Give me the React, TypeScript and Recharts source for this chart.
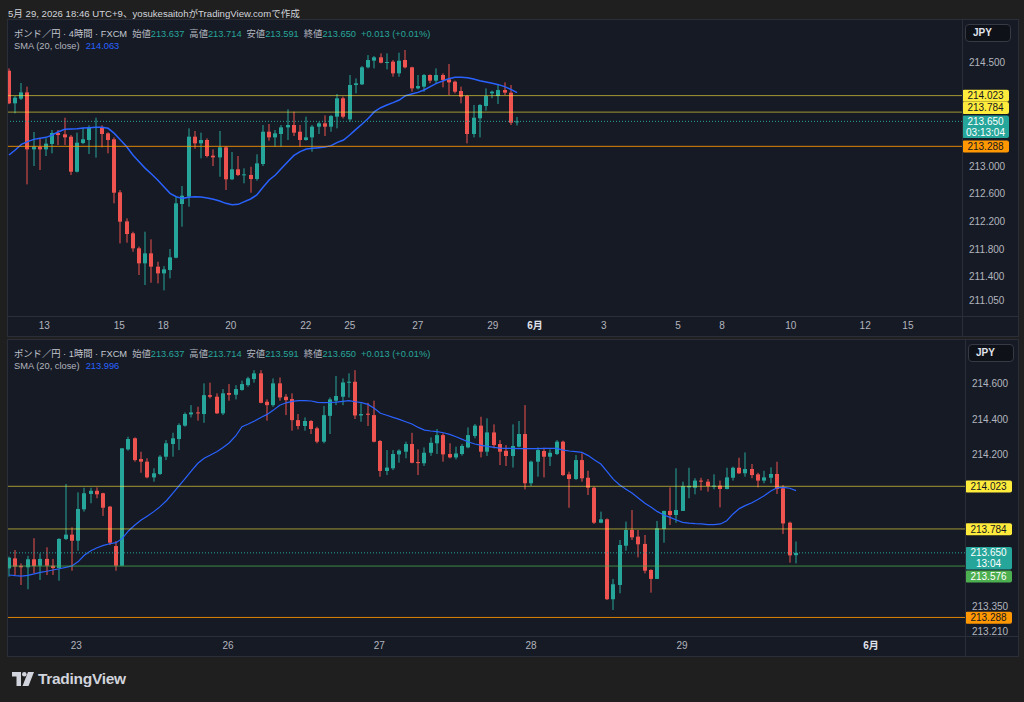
import React from 'react';
import { ComposedChart, Bar, Line, XAxis, YAxis, ReferenceLine } from 'recharts';

// ---------- 4H panel data ----------
const TOP_O = [214.384,213.911,213.979,214.070,213.244,213.278,213.244,213.322,213.481,213.462,213.428,212.920,213.336,213.380,213.554,213.563,213.476,213.390,212.621,212.200,212.027,211.810,211.592,211.737,211.544,211.447,211.495,211.674,212.452,212.558,213.428,213.331,213.380,213.153,213.128,213.273,212.810,212.955,212.868,212.873,212.814,213.032,213.500,213.418,213.467,213.563,213.597,213.500,213.380,213.418,213.573,213.621,213.573,213.718,213.984,213.679,214.177,214.186,214.433,214.530,214.578,214.500,214.515,214.346,214.539,214.433,214.128,214.153,214.322,214.240,214.322,214.259,214.225,214.090,214.017,213.467,213.694,213.873,214.056,214.017,214.104,214.066,213.637];
const TOP_H = [214.418,214.017,214.206,214.153,213.496,213.404,213.404,213.525,213.525,213.703,213.452,213.486,213.559,213.592,213.703,213.592,213.491,213.418,212.655,212.244,212.051,211.834,212.051,211.940,211.616,211.553,211.800,212.559,212.713,213.549,213.510,213.486,213.404,213.244,213.510,213.293,213.206,213.148,212.969,212.993,213.172,213.597,213.612,213.525,213.597,213.824,213.790,213.597,213.718,213.597,213.645,213.737,213.742,214.046,214.008,214.322,214.273,214.452,214.611,214.597,214.636,214.636,214.539,214.645,214.684,214.442,214.322,214.336,214.331,214.418,214.346,214.481,214.240,214.153,214.032,213.887,213.901,214.128,214.095,214.191,214.215,214.177,213.714];
const TOP_L = [213.900,213.766,213.960,212.737,213.003,212.945,213.148,213.186,213.307,213.307,212.872,212.910,213.320,213.177,213.124,213.273,213.186,212.462,211.882,211.892,211.761,211.423,211.278,211.312,211.302,211.200,211.375,211.665,212.124,212.413,213.254,213.114,213.128,213.003,212.848,212.655,212.800,212.858,212.752,212.616,212.790,213.003,213.370,213.283,213.283,213.380,213.438,213.283,213.370,213.210,213.467,213.438,213.500,213.549,213.694,213.645,214.056,214.177,214.418,214.418,214.491,214.404,214.297,214.297,214.418,214.080,214.114,214.080,214.201,214.201,214.143,214.032,214.056,213.911,213.331,213.418,213.418,213.805,213.984,213.901,214.032,213.597,213.591];
const TOP_C = [213.911,213.993,214.070,213.244,213.283,213.244,213.327,213.481,213.452,213.418,212.920,213.341,213.390,213.563,213.568,213.467,213.380,212.616,212.196,212.017,211.810,211.592,211.737,211.544,211.447,211.505,211.679,212.462,212.573,213.428,213.331,213.380,213.148,213.128,213.273,212.810,212.955,212.873,212.882,212.814,213.041,213.500,213.418,213.476,213.563,213.597,213.486,213.380,213.418,213.573,213.621,213.573,213.727,213.984,213.718,214.177,214.201,214.433,214.539,214.578,214.500,214.510,214.346,214.529,214.433,214.128,214.162,214.322,214.240,214.322,214.250,214.215,214.080,214.008,213.467,213.703,213.887,214.017,214.080,214.104,214.066,213.631,213.650];
const TOP_SMA = [213.162,213.235,213.317,213.356,213.389,213.404,213.418,213.452,213.500,213.534,213.539,213.544,213.554,213.558,213.563,213.563,213.549,213.476,213.380,213.283,213.162,213.066,212.969,212.887,212.800,212.703,212.607,212.558,212.534,212.549,212.558,212.553,212.539,212.520,212.496,212.462,212.443,212.447,212.486,212.525,212.583,212.694,212.800,212.872,212.969,213.066,213.157,213.211,213.249,213.259,213.269,213.278,213.298,213.346,213.380,213.452,213.534,213.612,213.694,213.790,213.848,213.887,213.921,213.959,214.022,214.046,214.070,214.104,214.153,214.201,214.235,214.269,214.288,214.288,214.283,214.264,214.240,214.220,214.201,214.182,214.153,214.114,214.066];
const TOP_XTICK_POS = [5.7, 17.8, 24.9, 35.8, 47.9, 55.0, 66.0, 78.1, 84.9, 96.0, 108.0, 115.1, 126.2, 138.2, 145.1];
const TOP_XTICK_LABELS = ['13', '15', '18', '20', '22', '25', '27', '29', '6月', '3', '5', '8', '10', '12', '15'];
const TOP_YTICKS = [214.5, 213.0, 212.6, 212.2, 211.8, 211.4, 211.05];

// ---------- 1H panel data ----------
const BOT_O = [213.563,213.619,213.578,213.569,213.614,213.578,213.616,213.578,213.565,213.728,213.752,213.718,213.894,213.980,213.998,213.984,213.909,213.688,213.578,214.230,214.292,214.176,214.161,214.073,214.092,214.189,214.260,214.288,214.363,214.426,214.437,214.428,214.534,214.525,214.432,214.546,214.536,214.563,214.590,214.624,214.656,214.497,214.478,214.600,214.525,214.512,214.394,214.361,214.389,214.348,214.273,214.418,214.503,214.525,214.604,214.609,214.420,214.430,214.422,214.277,214.109,214.124,214.202,214.217,214.260,214.159,214.152,214.211,214.264,214.310,214.204,214.185,214.204,214.241,214.305,214.363,214.217,214.325,214.260,214.222,214.193,214.245,214.316,214.040,214.161,214.221,214.189,214.204,214.273,214.090,214.064,214.170,214.071,214.015,213.819,213.838,213.390,213.470,213.690,213.778,213.741,213.700,213.554,213.504,213.784,213.885,213.862,213.885,214.017,214.015,214.055,214.049,214.021,214.027,214.008,214.071,214.127,214.096,214.120,214.090,214.055,214.071,214.092,214.012,213.819,213.637];
const BOT_H = [213.629,213.666,213.591,213.633,213.732,213.647,213.681,213.616,213.732,214.036,213.793,213.989,214.015,214.015,214.017,213.987,213.913,213.716,214.236,214.301,214.297,214.217,214.180,214.124,214.198,214.282,214.323,214.376,214.437,214.478,214.469,214.600,214.604,214.544,214.568,214.596,214.590,214.615,214.637,214.674,214.674,214.510,214.628,214.633,214.540,214.544,214.428,214.409,214.394,214.357,214.473,214.521,214.641,214.628,214.656,214.674,214.488,214.491,214.503,214.282,214.226,214.226,214.230,214.273,214.323,214.230,214.241,214.297,214.344,214.320,214.264,214.245,214.260,214.353,214.372,214.413,214.404,214.370,214.282,214.254,214.370,214.389,214.478,214.167,214.241,214.239,214.230,214.282,214.279,214.105,214.198,214.208,214.110,214.021,213.881,213.843,213.504,213.722,213.825,213.890,213.778,213.750,213.558,213.829,213.886,214.017,214.124,214.049,214.127,214.068,214.071,214.064,214.090,214.055,214.127,214.133,214.183,214.213,214.148,214.099,214.110,214.129,214.161,214.030,213.825,213.714];
const BOT_L = [213.517,213.526,213.470,213.446,213.535,213.498,213.526,213.526,213.494,213.722,213.550,213.662,213.881,213.928,213.956,213.857,213.694,213.550,213.576,214.223,214.161,214.099,214.068,214.049,214.086,214.170,214.189,214.226,214.357,214.409,214.391,214.379,214.516,214.428,214.422,214.503,214.510,214.559,214.581,214.604,214.488,214.391,214.469,214.503,214.422,214.335,214.342,214.335,214.316,214.264,214.264,214.316,214.478,214.478,214.521,214.400,214.385,214.361,214.269,214.077,214.086,214.114,214.155,214.180,214.152,214.086,214.137,214.194,214.204,214.161,214.180,214.174,214.195,214.236,214.292,214.185,214.193,214.236,214.142,214.137,214.128,214.241,214.006,214.025,214.077,214.073,214.137,214.198,214.081,213.903,214.058,214.049,213.974,213.812,213.816,213.386,213.330,213.423,213.662,213.722,213.625,213.535,213.427,213.504,213.707,213.806,213.819,213.885,213.956,213.978,214.000,213.993,214.006,213.905,214.006,214.055,214.092,214.077,214.068,214.017,214.040,214.040,213.980,213.756,213.595,213.591];
const BOT_C = [213.623,213.573,213.569,213.614,213.576,213.616,213.578,213.565,213.728,213.752,213.718,213.896,213.984,213.998,213.978,213.903,213.707,213.578,214.236,214.288,214.170,214.161,214.073,214.096,214.189,214.264,214.292,214.366,214.428,214.437,214.432,214.534,214.525,214.432,214.544,214.536,214.568,214.596,214.628,214.656,214.491,214.478,214.600,214.521,214.506,214.394,214.361,214.389,214.344,214.273,214.422,214.510,214.529,214.605,214.609,214.420,214.428,214.424,214.273,214.109,214.128,214.204,214.223,214.260,214.155,214.153,214.211,214.267,214.310,214.202,214.185,214.207,214.249,214.310,214.363,214.217,214.325,214.254,214.217,214.193,214.249,214.316,214.040,214.161,214.226,214.189,214.211,214.273,214.086,214.064,214.170,214.068,214.015,213.819,213.838,213.390,213.474,213.694,213.778,213.737,213.698,213.550,213.504,213.788,213.885,213.862,213.890,214.025,214.025,214.055,214.049,214.025,214.027,214.008,214.073,214.127,214.096,214.120,214.086,214.055,214.073,214.092,214.008,213.815,213.636,213.650];
const BOT_SMA = [213.526,213.522,213.520,213.524,213.532,213.541,213.547,213.554,213.561,213.569,213.577,213.601,213.638,213.662,213.679,213.692,213.701,213.707,213.731,213.774,213.806,213.834,213.857,213.881,213.909,213.942,213.984,214.025,214.068,214.111,214.152,214.180,214.198,214.217,214.241,214.267,214.305,214.357,214.372,214.389,214.409,214.426,214.450,214.477,214.491,214.499,214.503,214.503,214.501,214.493,214.492,214.493,214.495,214.499,214.503,214.497,214.492,214.482,214.460,214.432,214.421,214.409,214.398,214.385,214.372,214.353,214.338,214.333,214.329,214.323,214.314,214.301,214.286,214.271,214.260,214.252,214.247,214.241,214.237,214.236,214.236,214.234,214.234,214.234,214.234,214.236,214.236,214.236,214.226,214.221,214.217,214.213,214.195,214.170,214.148,214.105,214.062,214.030,214.006,213.984,213.956,213.928,213.905,213.881,213.862,213.849,213.834,213.821,213.817,213.814,213.812,213.808,213.808,213.812,213.830,213.868,213.898,213.916,213.931,213.950,213.971,213.997,214.015,214.017,214.012,213.999];
const BOT_XTICK_POS = [10.7, 34.8, 58.8, 82.9, 106.9, 136.9];
const BOT_XTICK_LABELS = ['23', '26', '27', '28', '29', '6月'];
const BOT_YTICKS = [214.6, 214.4, 214.2, 213.35, 213.21];

// horizontal levels
const LEVEL_HIGH = 214.023;
const LEVEL_MID = 213.784;
const LEVEL_LOW = 213.288;
const LEVEL_GREEN = 213.576;
const LAST_PRICE = 213.650;

const BG_PAGE = '#1f1f1f';
const BG_CHART = '#161a25';
const SEP = '#2a2e39';
const UP = '#26a69a';
const DOWN = '#ef5350';
const TXT = '#b2b5be';
const SMA_COLOR = '#2962ff';
const FONT = '"Liberation Sans", Arial, "Noto Sans CJK JP", sans-serif';

const build = (o: number[], h: number[], l: number[], c: number[], s: number[]) =>
  o.map((v, i) => ({ i, o: v, h: h[i], l: l[i], c: c[i], range: [l[i], h[i]], sma: s[i] }));

const TOP_DATA = build(TOP_O, TOP_H, TOP_L, TOP_C, TOP_SMA);
const BOT_DATA = build(BOT_O, BOT_H, BOT_L, BOT_C, BOT_SMA);

const Candle = (props: any) => {
  const { x, y, width, height, payload } = props;
  if (!payload || payload.o == null || !isFinite(x) || !isFinite(y)) return null;
  const { o, h, l, c } = payload;
  const top = Math.min(y, y + height);
  const hh = Math.abs(height);
  const cx = x + width / 2;
  const ppu = h > l ? hh / (h - l) : 0;
  const yO = top + (h - o) * ppu;
  const yC = top + (h - c) * ppu;
  const color = c >= o ? UP : DOWN;
  const bTop = Math.min(yO, yC);
  const bh = Math.max(1, Math.abs(yO - yC));
  const bx = Math.round(cx - 2);
  return (
    <g>
      <rect x={bx + 1.5} y={top} width={1} height={Math.max(1, hh)} fill={color} />
      <rect x={bx} y={bTop} width={4} height={bh} fill={color} />
    </g>
  );
};

const Tag = (props: any) => {
  const { viewBox, text, sub, fill, color, shift = 0 } = props;
  if (!viewBox) return null;
  const x0 = viewBox.x + viewBox.width;
  const yc = viewBox.y + shift;
  const w = 47;
  const h = sub ? 22.5 : 12;
  return (
    <g>
      <rect x={x0} y={yc - 5.8} width={w} height={h} rx={2} fill={fill} />
      <text x={x0 + w / 2} y={yc} dy="0.36em" textAnchor="middle" fontSize={10} fill={color} fontFamily={FONT}>
        {text}
      </text>
      {sub ? (
        <text x={x0 + w / 2} y={yc + 10.6} dy="0.36em" textAnchor="middle" fontSize={10} fill={color} fontFamily={FONT}>
          {sub}
        </text>
      ) : null}
    </g>
  );
};

const Header = ({ top, tf, sma }: { top: number; tf: string; sma: string }) => {
  const g = { color: TXT };
  const v = { color: UP };
  return (
    <div style={{ position: 'absolute', left: 6, top, fontSize: 9.3, lineHeight: '12.5px', whiteSpace: 'nowrap', fontFamily: FONT }}>
      <div>
        <span style={{ color: '#c4c7cf' }}>ポンド／円 · {tf} · FXCM</span>
        <span style={{ marginLeft: 5, ...g }}>始値</span><span style={v}>213.637</span>
        <span style={{ marginLeft: 5, ...g }}>高値</span><span style={v}>213.714</span>
        <span style={{ marginLeft: 5, ...g }}>安値</span><span style={v}>213.591</span>
        <span style={{ marginLeft: 5, ...g }}>終値</span><span style={v}>213.650</span>
        <span style={{ marginLeft: 5, ...v }}>+0.013 (+0.01%)</span>
      </div>
      <div>
        <span style={g}>SMA (20, close)</span>
        <span style={{ marginLeft: 6, color: SMA_COLOR }}>{sma}</span>
      </div>
    </div>
  );
};

type PanelProps = {
  top: number;
  data: any[];
  yDomain: [number, number];
  yTicks: number[];
  xDomain: [number, number];
  xTicks: number[];
  xLabels: string[];
  axisW: number;
  tf: string;
  smaText: string;
  countdown: string;
  showGreen: boolean;
  midShift: number;
  greenShift: number;
  smaWidth: number;
};

const W = 1010;
const H = 316;
const XH = 20;

const Panel = (p: PanelProps) => {
  const plotW = W - p.axisW;
  const XTick = (props: any) => {
    const { x, y, payload } = props;
    const idx = p.xTicks.indexOf(payload.value);
    const label = p.xLabels[idx] ?? '';
    const strong = label.includes('月');
    return (
      <text x={x} y={y} dy={5} textAnchor="middle" fontSize={10} fontFamily={FONT}
        fill={strong ? '#e0e3eb' : TXT} fontWeight={strong ? 700 : 400}>
        {label}
      </text>
    );
  };
  const YTick = (props: any) => {
    const { x, y, payload } = props;
    return (
      <text x={x - 1} y={y} dy="0.36em" textAnchor="start" fontSize={10} fontFamily={FONT} fill={TXT}>
        {Number(payload.value).toFixed(3)}
      </text>
    );
  };
  const yellowLine = { stroke: '#ffeb3b', strokeOpacity: 0.6, strokeWidth: 1 };
  return (
    <div style={{ position: 'absolute', left: 8, top: p.top, width: W, height: H, background: BG_CHART, outline: `1px solid ${SEP}` }}>
      <ComposedChart width={W} height={H} data={p.data} margin={{ top: 0, right: 0, bottom: 0, left: 0 }}>
        <XAxis type="number" dataKey="i" domain={p.xDomain} allowDataOverflow ticks={p.xTicks} interval={0}
          height={XH} axisLine={false} tickLine={false} tick={<XTick />} />
        <YAxis type="number" orientation="right" domain={p.yDomain} allowDataOverflow ticks={p.yTicks} interval={0}
          width={p.axisW} axisLine={false} tickLine={false} tick={<YTick />} />
        <Bar dataKey="range" barSize={4} shape={<Candle />} isAnimationActive={false} />
        <Line type="linear" dataKey="sma" stroke={SMA_COLOR} strokeWidth={p.smaWidth} dot={false} activeDot={false} isAnimationActive={false} />
        <ReferenceLine y={LEVEL_HIGH} {...yellowLine}
          label={<Tag text={LEVEL_HIGH.toFixed(3)} fill="#ffeb3b" color="#131722" />} />
        <ReferenceLine y={LEVEL_MID} {...yellowLine}
          label={<Tag text={LEVEL_MID.toFixed(3)} fill="#ffeb3b" color="#131722" shift={p.midShift} />} />
        <ReferenceLine y={LEVEL_LOW} stroke="#ff9800" strokeOpacity={0.85} strokeWidth={1}
          label={<Tag text={LEVEL_LOW.toFixed(3)} fill="#ff9800" color="#131722" />} />
        <ReferenceLine y={LAST_PRICE} stroke={UP} strokeWidth={1} strokeDasharray="1 2"
          label={<Tag text={LAST_PRICE.toFixed(3)} sub={p.countdown} fill={UP} color="#ffffff" />} />
        {p.showGreen ? (
          <ReferenceLine y={LEVEL_GREEN} stroke="#4caf50" strokeOpacity={0.75} strokeWidth={1}
            label={<Tag text={LEVEL_GREEN.toFixed(3)} fill="#4caf50" color="#ffffff" shift={p.greenShift} />} />
        ) : null}
      </ComposedChart>
      <div style={{ position: 'absolute', left: 0, top: H - XH, width: W, height: 1, background: SEP }} />
      <div style={{ position: 'absolute', left: plotW, top: 0, width: 1, height: H, background: SEP }} />
      <div style={{ position: 'absolute', left: plotW + 3, top: 4, width: 46, height: 18, boxSizing: 'border-box', border: '1px solid #363a45', borderRadius: 4, background: '#0f1118', color: '#e0e3eb', fontSize: 10, fontWeight: 700, lineHeight: '16px', paddingLeft: 7, fontFamily: FONT }}>
        JPY
      </div>
      <Header top={7.5} tf={p.tf} sma={p.smaText} />
    </div>
  );
};

const Logo = () => (
  <div style={{ position: 'absolute', left: 12, top: 670, display: 'flex', alignItems: 'center', color: '#d1d4dc' }}>
    <svg width={22} height={14} viewBox="0 0 22 14">
      <path d="M0 0H9V14H4.5V4.5H0Z" fill="#d1d4dc" />
      <circle cx={12.3} cy={2.3} r={2.3} fill="#d1d4dc" />
      <path d="M16 0H22L16.5 14H10.5Z" fill="#d1d4dc" />
    </svg>
    <span style={{ marginLeft: 4, fontSize: 15.5, fontWeight: 700, fontFamily: FONT, letterSpacing: -0.3 }}>TradingView</span>
  </div>
);

export default function App() {
  return (
    <div style={{ position: 'absolute', left: 0, top: 0, width: 1024, height: 702, background: BG_PAGE, overflow: 'hidden', fontFamily: FONT }}>
      <div style={{ position: 'absolute', left: 8, top: 5.5, fontSize: 9.6, color: '#d1d4dc', whiteSpace: 'nowrap' }}>
        5月 29, 2026 18:46 UTC+9、yosukesaitohがTradingView.comで作成
      </div>
      <Panel top={20} data={TOP_DATA} yDomain={[210.829, 215.119]} yTicks={TOP_YTICKS}
        xDomain={[-0.161, 153.83]} xTicks={TOP_XTICK_POS} xLabels={TOP_XTICK_LABELS}
        axisW={56} tf="4時間" smaText="214.063" countdown="03:13:04" showGreen={false}
        midShift={-4.4} greenShift={0} smaWidth={1.5} />
      <Panel top={340} data={BOT_DATA} yDomain={[213.184, 214.843]} yTicks={BOT_YTICKS}
        xDomain={[-0.159, 151.84]} xTicks={BOT_XTICK_POS} xLabels={BOT_XTICK_LABELS}
        axisW={53} tf="1時間" smaText="213.996" countdown="13:04" showGreen={true}
        midShift={0} greenShift={10.3} smaWidth={1.2} />
      <Logo />
    </div>
  );
}
